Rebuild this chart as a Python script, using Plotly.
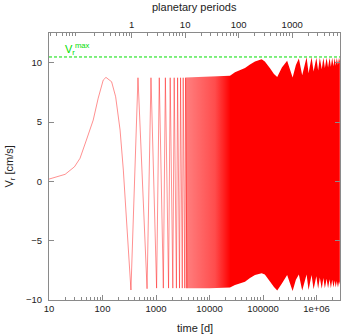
import numpy as np
import plotly.graph_objects as go

# radial velocity of the star, V_r [cm/s] against time [d]
# first, smooth stretch of the curve
t_start = [10, 20, 30, 38, 50, 67, 83, 103, 116, 148, 176, 213, 245, 340]
v_start = [0.19, 0.59, 1.23, 1.94, 3.48, 5.16, 7.0, 8.53, 8.76, 8.39, 7.13, 4.32, 0.95, -9.16]

# single oscillations that can still be told apart (peak / trough)
t_osc = [460, 680, 805, 1025, 1150, 1370, 1495, 1715, 1840, 2060,
         2185, 2405, 2530, 2750, 2875, 3095, 3220, 3440, 3565, 3785]
v_osc = [8.73, -9.05, 8.73, -9.0, 8.73, -9.0, 8.73, -9.0, 8.73, -9.0,
         8.73, -9.0, 8.73, -9.0, 8.73, -9.0, 8.73, -9.0, 8.73, -9.0]

# envelope of the dense part (upper / lower edge of the red band)
env_t = [3600, 1.0e4, 2.41e4, 2.99e4, 4.6e4, 5.7e4, 7.07e4, 9.42e4, 1.08e5, 1.35e5,
         1.6e5, 1.84e5, 2.25e5, 2.82e5, 3.17e5, 3.57e5, 4.11e5, 4.67e5, 5.39e5, 6.51e5,
         7.09e5, 8.07e5, 8.8e5, 9.91e5, 1.07e6, 1.15e6, 1.25e6, 1.34e6, 1.43e6, 1.54e6,
         1.64e6, 1.75e6, 1.85e6, 1.96e6, 2.07e6, 2.18e6, 2.28e6, 2.39e6, 2.51e6, 2.63e6,
         2.72e6]
env_hi = [8.75, 8.8, 8.9, 9.2, 9.55, 9.85, 10.1, 10.28, 10.1, 9.52,
          9.04, 8.8, 9.6, 10.16, 9.5, 8.76, 9.8, 10.36, 8.95, 10.45,
          9.1, 10.45, 9.25, 10.42, 9.35, 10.42, 9.45, 10.42, 9.55, 10.42,
          9.6, 10.42, 9.65, 10.42, 9.7, 10.42, 9.75, 10.42, 9.8, 10.42,
          10.1]
env_lo = [-9.0, -9.0, -8.95, -8.74, -8.46, -8.15, -7.9, -7.75, -7.85, -8.4,
          -8.9, -9.2, -8.6, -7.9, -8.5, -9.24, -8.3, -7.85, -9.2, -7.85,
          -9.15, -7.9, -9.1, -8.0, -9.05, -8.1, -9.05, -8.15, -9.0, -8.2,
          -9.0, -8.25, -9.0, -8.3, -8.95, -8.35, -8.95, -8.4, -8.95, -8.45,
          -8.7]

vr_max = 10.48
period_d = 350.0  # one planetary period in days

x_ticks = [10, 100, 1000, 1e4, 1e5, 1e6]
x_ticktext = ["10", "100", "1000", "10000", "100000", "1e+06"]
top_ticks = [1, 10, 100, 1000]
y_ticks = [-10, -5, 0, 5, 10]

x_lo, x_hi = 1.0, 6.438
frame = "#8a8a8a"
font = "Liberation Sans, Arial, sans-serif"

fig = go.Figure()

# dense band
fig.add_trace(go.Scatter(
    x=env_t + env_t[::-1],
    y=env_hi + env_lo[::-1],
    mode="lines",
    line=dict(width=0, color="red"),
    fill="toself",
    fillcolor="red",
    fillgradient=dict(
        type="horizontal",
        colorscale=[[0, "rgba(255,0,0,0.5)"], [0.19, "rgba(255,0,0,0.7)"],
                    [0.29, "rgba(255,0,0,1)"], [1, "rgba(255,0,0,1)"]],
    ),
    hoverinfo="skip",
    showlegend=False,
))

# thin line for the resolved part
fig.add_trace(go.Scatter(
    x=t_start + t_osc,
    y=v_start + v_osc,
    mode="lines",
    line=dict(color="rgba(255,0,0,0.55)", width=0.8),
    hoverinfo="skip",
    showlegend=False,
))

# V_r^max level
fig.add_hline(y=vr_max, line=dict(color="#00e000", width=1, dash="3px,2px"))

# empty trace so the top axis gets drawn
fig.add_trace(go.Scatter(x=[], y=[], xaxis="x2", showlegend=False))

fig.add_annotation(
    xref="paper", yref="y", x=0.048, y=vr_max, xanchor="left", yanchor="bottom",
    text="V<sub>r</sub><sup>max</sup>", showarrow=False,
    font=dict(family=font, size=11, color="#00dd00"), yshift=-2,
)

# axis titles
fig.add_annotation(xref="paper", yref="paper", x=0.5, y=0, yanchor="middle", yshift=-28,
                   text="time [d]", showarrow=False, font=dict(family=font, size=11, color="#222"))
fig.add_annotation(xref="paper", yref="paper", x=0.5, y=1, yanchor="middle", yshift=26.5,
                   text="planetary periods", showarrow=False, font=dict(family=font, size=11, color="#222"))
fig.add_annotation(xref="paper", yref="paper", x=0, y=0.5, xanchor="center", xshift=-40,
                   text="V<sub>r</sub> [cm/s]", textangle=-90, showarrow=False,
                   font=dict(family=font, size=11, color="#222"))

minor_bottom = [m * 10 ** d for d in range(1, 7) for m in range(2, 10)]
minor_top = [m * 10.0 ** d for d in range(-2, 4) for m in range(2, 10)]

tick_font = dict(family=font, size=9.5, color="#222")

fig.update_layout(
    width=360, height=336,
    margin=dict(l=49, r=20, t=33, b=36),
    plot_bgcolor="white", paper_bgcolor="white",
    showlegend=False,
    xaxis=dict(
        type="log", range=[x_lo, x_hi], automargin=False,
        tickmode="array", tickvals=x_ticks, ticktext=x_ticktext,
        ticks="inside", ticklen=5, tickcolor=frame, tickfont=tick_font,
        minor=dict(tickmode="array", tickvals=minor_bottom, ticks="inside", ticklen=3,
                   tickcolor=frame, showgrid=False),
        showline=True, linecolor=frame, linewidth=1, mirror=False,
        showgrid=False, zeroline=False,
    ),
    xaxis2=dict(
        type="log", overlaying="x", side="top", anchor="y", automargin=False,
        range=[x_lo - np.log10(period_d), x_hi - np.log10(period_d)],
        tickmode="array", tickvals=top_ticks, ticktext=[str(v) for v in top_ticks],
        ticks="inside", ticklen=5, tickcolor=frame, tickfont=tick_font,
        minor=dict(tickmode="array", tickvals=minor_top, ticks="inside", ticklen=3,
                   tickcolor=frame, showgrid=False),
        showline=True, linecolor=frame, linewidth=1,
        showgrid=False, zeroline=False,
    ),
    yaxis=dict(
        range=[-10, 12.5], tickvals=y_ticks, automargin=False,
        ticks="inside", ticklen=5, tickcolor=frame, tickfont=tick_font,
        ticklabelstandoff=4,
        showline=True, linecolor=frame, linewidth=1, mirror="ticks",
        showgrid=False, zeroline=False,
    ),
)

# drop the browser's default 8 px page margin so the figure sits at the corner
fig.write_html(
    "out.html",
    config={"displayModeBar": False},
    post_script="document.body.style.margin='0';",
)
